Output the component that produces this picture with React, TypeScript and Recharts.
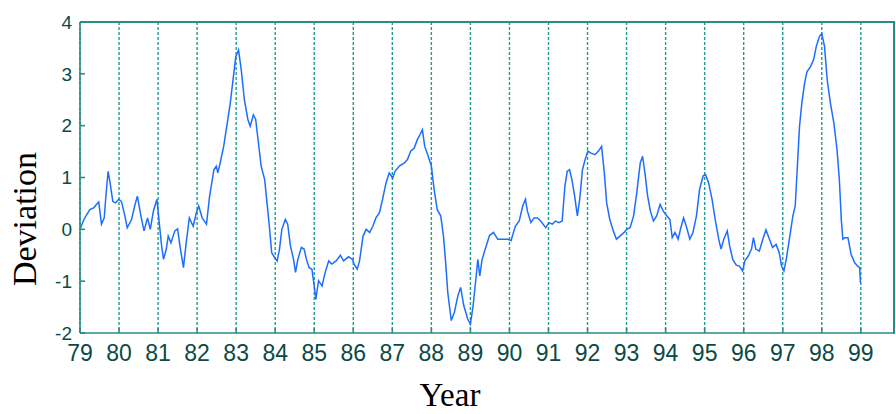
import { LineChart, Line, XAxis, YAxis, CartesianGrid } from 'recharts';

// time in years (two-digit)
const years = [
  79.0, 79.1, 79.25, 79.36, 79.42, 79.48, 79.55, 79.62, 79.67, 79.72, 79.77, 79.84, 79.91, 79.99,
  80.06, 80.15, 80.21, 80.32, 80.4, 80.47, 80.56, 80.64, 80.73, 80.8, 80.88, 80.97,
  81.03, 81.09, 81.14, 81.21, 81.26, 81.33, 81.43, 81.5, 81.56, 81.65, 81.72, 81.8, 81.9, 81.98,
  82.04, 82.13, 82.24, 82.32, 82.43, 82.49, 82.53, 82.59, 82.68, 82.76, 82.85, 82.93, 82.99,
  83.06, 83.13, 83.21, 83.3, 83.36, 83.44, 83.5, 83.57, 83.64, 83.73, 83.79, 83.85, 83.91, 83.98,
  84.05, 84.11, 84.17, 84.26, 84.32, 84.39, 84.47, 84.52, 84.58, 84.67, 84.74, 84.8, 84.87, 84.94,
  85.01, 85.04, 85.11, 85.2, 85.28, 85.37, 85.45, 85.56, 85.67, 85.75, 85.88, 85.98,
  86.02, 86.1, 86.16, 86.25, 86.33, 86.42, 86.5, 86.58, 86.67, 86.75, 86.84, 86.92,
  87.01, 87.07, 87.18, 87.31, 87.39, 87.47, 87.56, 87.64, 87.71, 87.77, 87.83, 87.92,
  88.0, 88.07, 88.15, 88.24, 88.31, 88.36, 88.42, 88.51, 88.59, 88.68, 88.75, 88.83, 88.93,
  89.0, 89.07, 89.13, 89.19, 89.24, 89.3, 89.38, 89.49, 89.59, 89.7, 89.83, 89.96,
  90.04, 90.15, 90.25, 90.34, 90.41, 90.46, 90.55, 90.63, 90.72, 90.8, 90.93,
  91.01, 91.1, 91.18, 91.27, 91.35, 91.42, 91.48, 91.54, 91.6, 91.67, 91.74, 91.8, 91.87, 91.94,
  92.01, 92.09, 92.19, 92.28, 92.36, 92.43, 92.49, 92.57, 92.66, 92.74, 92.83, 92.94,
  93.0, 93.09, 93.18, 93.26, 93.35, 93.41, 93.47, 93.54, 93.61, 93.69, 93.77, 93.86, 93.94,
  94.03, 94.11, 94.17, 94.24, 94.32, 94.39, 94.46, 94.53, 94.62, 94.7, 94.79, 94.87, 94.96,
  95.02, 95.1, 95.19, 95.27, 95.36, 95.42, 95.49, 95.58, 95.64, 95.72, 95.81, 95.89, 95.97,
  96.03, 96.12, 96.2, 96.25, 96.31, 96.4, 96.49, 96.57, 96.66, 96.74, 96.83, 96.91, 96.97,
  97.03, 97.09, 97.17, 97.26, 97.32, 97.37, 97.43, 97.49, 97.56, 97.62, 97.71, 97.79, 97.86, 97.94,
  98.0, 98.07, 98.14, 98.22, 98.31, 98.39, 98.45, 98.5, 98.54, 98.6, 98.67, 98.75, 98.84, 98.92, 98.97,
  98.99,
];

const deviation = [
  0.0, 0.19, 0.38, 0.42, 0.48, 0.53, 0.1, 0.22, 0.7, 1.12, 0.9, 0.54, 0.51, 0.58,
  0.54, 0.26, 0.03, 0.19, 0.45, 0.64, 0.26, -0.03, 0.22, 0.0, 0.35, 0.58,
  0.13, -0.32, -0.58, -0.38, -0.13, -0.26, -0.03, 0.01, -0.32, -0.74, -0.26, 0.22, 0.06, 0.32,
  0.45, 0.22, 0.1, 0.64, 1.15, 1.22, 1.09, 1.28, 1.6, 1.99, 2.44, 2.95, 3.33,
  3.46, 3.08, 2.5, 2.12, 1.99, 2.21, 2.12, 1.67, 1.22, 0.96, 0.51, 0.06, -0.45, -0.54,
  -0.61, -0.38, 0.0, 0.19, 0.1, -0.32, -0.58, -0.83, -0.58, -0.35, -0.38, -0.58, -0.74, -0.77,
  -1.15, -1.35, -0.99, -1.09, -0.83, -0.61, -0.67, -0.61, -0.5, -0.61, -0.53, -0.58,
  -0.67, -0.77, -0.61, -0.13, 0.0, -0.06, 0.06, 0.22, 0.32, 0.58, 0.9, 1.09,
  0.99, 1.12, 1.22, 1.28, 1.35, 1.51, 1.57, 1.73, 1.83, 1.92, 1.6, 1.41,
  1.22, 0.77, 0.38, 0.26, -0.13, -0.58, -1.22, -1.76, -1.6, -1.28, -1.12, -1.47, -1.73,
  -1.83, -1.47, -1.03, -0.58, -0.9, -0.58, -0.38, -0.12, -0.06, -0.19, -0.19, -0.19,
  -0.22, 0.06, 0.16, 0.45, 0.58, 0.35, 0.13, 0.22, 0.22, 0.16, 0.03,
  0.13, 0.1, 0.16, 0.13, 0.16, 0.83, 1.12, 1.15, 0.96, 0.64, 0.26, 0.58, 1.15, 1.35,
  1.51, 1.47, 1.44, 1.51, 1.6, 1.09, 0.51, 0.19, -0.03, -0.19, -0.13, -0.06,
  0.0, 0.03, 0.26, 0.7, 1.28, 1.41, 1.09, 0.64, 0.35, 0.16, 0.26, 0.48, 0.35,
  0.26, 0.19, -0.16, -0.06, -0.19, 0.03, 0.22, 0.06, -0.19, -0.06, 0.26, 0.77, 1.03,
  1.06, 0.9, 0.58, 0.19, -0.19, -0.38, -0.19, -0.03, -0.32, -0.58, -0.69, -0.71, -0.8,
  -0.61, -0.51, -0.38, -0.16, -0.38, -0.42, -0.19, -0.01, -0.19, -0.35, -0.29, -0.45, -0.71,
  -0.8, -0.58, -0.19, 0.26, 0.45, 1.15, 1.99, 2.44, 2.82, 3.04, 3.14, 3.27, 3.53, 3.72,
  3.78, 3.53, 2.88, 2.44, 2.05, 1.54, 0.96, 0.19, -0.19, -0.16, -0.16, -0.48, -0.64, -0.71, -0.74,
  -1.03,
];

const yearTicks = [79, 80, 81, 82, 83, 84, 85, 86, 87, 88, 89, 90, 91, 92, 93, 94, 95, 96, 97, 98, 99];
const devTicks = [-2, -1, 0, 1, 2, 3, 4];
const xDomain: [number, number] = [79, 99.85];
const yDomain: [number, number] = [-2, 4];

const data = years.map((t, i) => ({ t, v: deviation[i] }));

const AXIS = '#2b8c83';
const LABEL = '#0b4a45';
const serif = '"Liberation Serif", "Times New Roman", serif';
const sans = '"Liberation Sans", Arial, sans-serif';

export default function App() {
  return (
    <div style={{ position: 'absolute', left: 0, top: 0, width: 896, height: 414, background: '#fff' }}>
      <LineChart width={896} height={414} data={data} margin={{ top: 22, right: 2, bottom: 51, left: 0 }}>
        <CartesianGrid horizontal={false} stroke="#1a9e92" strokeDasharray="3 2" strokeWidth={1.4} />
        <XAxis
          dataKey="t"
          type="number"
          domain={xDomain}
          ticks={yearTicks}
          allowDataOverflow
          height={30}
          stroke={AXIS}
          strokeWidth={1.6}
          tickSize={-5}
          tickMargin={17}
          tick={{ fill: LABEL, fontSize: 23, fontFamily: sans }}
        />
        <YAxis
          type="number"
          domain={yDomain}
          ticks={devTicks}
          width={80}
          stroke={AXIS}
          strokeWidth={1.6}
          tickSize={-5}
          tickMargin={13}
          tick={{ fill: LABEL, fontSize: 19, fontFamily: sans }}
        />
        <Line
          dataKey="v"
          type="linear"
          stroke="#1f6dff"
          strokeWidth={1.5}
          dot={false}
          isAnimationActive={false}
        />
      </LineChart>
      {/* top and right edges of the plot box */}
      <div style={{ position: 'absolute', left: 80, top: 21, width: 815, height: 2, background: AXIS, zIndex: 3 }} />
      <div style={{ position: 'absolute', left: 893, top: 21, width: 2, height: 313, background: AXIS, zIndex: 3 }} />
      <div
        style={{
          position: 'absolute',
          left: 25,
          top: 219,
          transform: 'translate(-50%, -50%) rotate(-90deg)',
          fontFamily: serif,
          fontSize: 34,
          color: '#000',
          whiteSpace: 'nowrap',
        }}
      >
        Deviation
      </div>
      <div
        style={{
          position: 'absolute',
          left: 400,
          top: 379,
          width: 100,
          height: 32,
          lineHeight: '32px',
          textAlign: 'center',
          fontFamily: serif,
          fontSize: 33,
          color: '#000',
          whiteSpace: 'nowrap',
        }}
      >
        Year
      </div>
    </div>
  );
}
